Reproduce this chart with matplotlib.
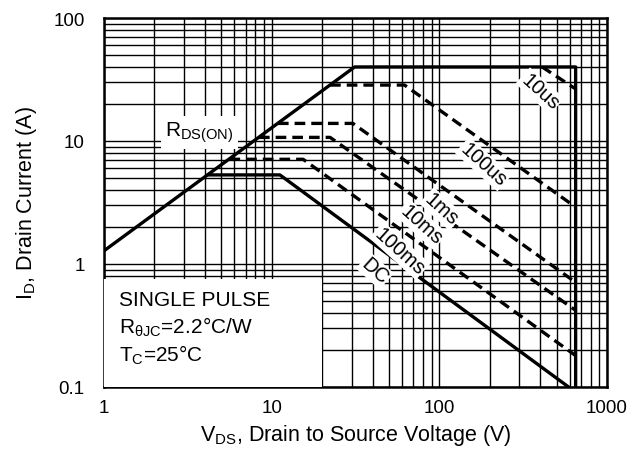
import numpy as np
import matplotlib
matplotlib.use("Agg")
import matplotlib.pyplot as plt
from matplotlib.ticker import FixedLocator, LogLocator, NullFormatter, FuncFormatter
from matplotlib.patches import Rectangle

plt.rcParams["font.family"] = ["Liberation Sans", "DejaVu Sans"]
plt.rcParams["mathtext.fontset"] = "custom"
plt.rcParams["mathtext.rm"] = "Liberation Sans"
plt.rcParams["mathtext.it"] = "Liberation Sans:italic"

# ── SOA curve data (V_DS in volts, I_D in amps) ───────────────────────────────
limit_v = [1, 31.25, 650, 650]
limit_i = [1.28, 40, 40, 0.1]

us10_v = [410, 650]
us10_i = [40, 26.5]

us100_v = [22.3, 62, 650]
us100_i = [28.5, 28.5, 2.9]

ms1_v = [10.9, 30.5, 650]
ms1_i = [13.9, 13.9, 0.71]

ms10_v = [8.4, 22.3, 650]
ms10_i = [10.7, 10.7, 0.42]

ms100_v = [5.6, 15.4, 650]
ms100_i = [7.1, 7.1, 0.18]

dc_v = [4.2, 11.2, 590]
dc_i = [5.3, 5.3, 0.1]

x_ticks = [1, 10, 100, 1000]
y_ticks = [0.1, 1, 10, 100]

# ── FIGURE ────────────────────────────────────────────────────────────────────
fig = plt.figure(figsize=(6.31, 4.64), dpi=100, facecolor="white")
ax = fig.add_axes([104 / 631, 1 - 388 / 464, 503 / 631, 369 / 464])
ax.set_xscale("log")
ax.set_yscale("log")
ax.set_xlim(1, 1000)
ax.set_ylim(0.1, 100)

ax.xaxis.set_major_locator(FixedLocator(x_ticks))
ax.yaxis.set_major_locator(FixedLocator(y_ticks))
ax.xaxis.set_minor_locator(LogLocator(base=10, subs=np.arange(2, 10)))
ax.yaxis.set_minor_locator(LogLocator(base=10, subs=np.arange(2, 10)))
ax.xaxis.set_minor_formatter(NullFormatter())
ax.yaxis.set_minor_formatter(NullFormatter())
fmt = FuncFormatter(lambda v, p: f"{v:g}")
ax.xaxis.set_major_formatter(fmt)
ax.yaxis.set_major_formatter(fmt)

ax.grid(True, which="both", color="black", lw=1.0)
ax.tick_params(which="both", length=0, labelsize=13.5)
ax.tick_params(axis="x", pad=9)
ax.tick_params(axis="y", pad=14)
for s in ax.spines.values():
    s.set_linewidth(1.8)

LW = 2.4
ax.plot(limit_v, limit_i, color="black", lw=LW, zorder=4)
dash = dict(color="black", lw=LW, ls=(0, (3.2, 1.8)), zorder=4)
ax.plot(us10_v, us10_i, **dash)
ax.plot(us100_v, us100_i, **dash)
ax.plot(ms1_v, ms1_i, **dash)
ax.plot(ms10_v, ms10_i, **dash)
ax.plot(ms100_v, ms100_i, **dash)
ax.plot(dc_v, dc_i, color="black", lw=LW, zorder=4)

# curve labels
box = dict(facecolor="white", edgecolor="none", pad=1.0)
lab = dict(fontsize=14.5, rotation=-42, ha="center", va="center", bbox=box, zorder=6)
ax.text(398, 25.5, "10us", **lab)
ax.text(183, 6.5, "100us", **lab)
ax.text(103, 2.8, "1ms", **lab)
ax.text(78, 2.1, "10ms", **lab)
ax.text(58, 1.28, "100ms", **lab)
ax.text(41.3, 0.88, "DC", **lab)

ax.text(3.7, 11.8, r"R$_{\mathrm{DS(ON)}}$", fontsize=15, ha="center", va="center",
        bbox=dict(facecolor="white", edgecolor="none", pad=3), zorder=5)

# condition box
ax.add_patch(Rectangle((0, 0), 0.433, 0.293, transform=ax.transAxes,
                       facecolor="white", edgecolor="none", zorder=5))
cond = dict(transform=ax.transAxes, fontsize=15, ha="left", va="center", zorder=6)
ax.text(0.03, 1 - (301 - 19) / 369, "SINGLE PULSE", **cond)
ax.text(0.03, 1 - (327 - 19) / 369, r"R$_{\mathrm{\theta JC}}$=2.2°C/W", **cond)
ax.text(0.03, 1 - (355 - 19) / 369, r"T$_{\mathrm{C}}$=25°C", **cond)

ax.set_xlabel(r"V$_{\mathrm{DS}}$, Drain to Source Voltage (V)", fontsize=15.5, labelpad=4)
ax.set_ylabel(r"I$_{\mathrm{D}}$, Drain Current (A)", fontsize=15.5, labelpad=10)

fig.savefig("out.png", dpi=100)
